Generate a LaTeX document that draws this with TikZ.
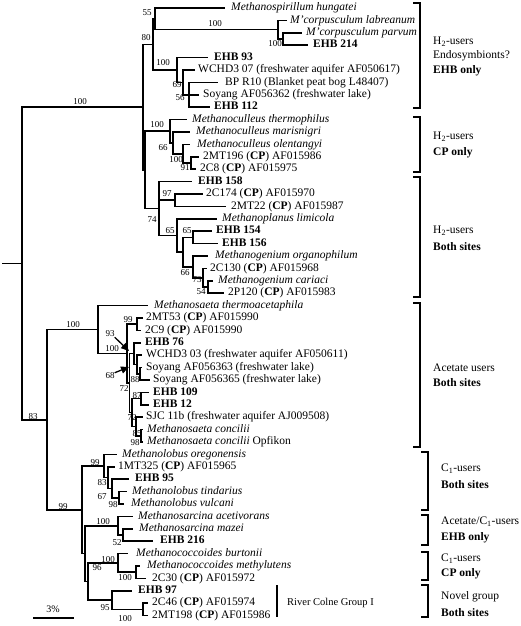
\documentclass[tikz,border=0pt]{standalone}
\usepackage{fontspec}
\setmainfont{Liberation Serif}
\usetikzlibrary{arrows.meta}
\begin{document}
\begin{tikzpicture}[x=1pt,y=-1pt,
  tr/.style={line width=1.6pt},
  brk/.style={line width=1.2pt},
  lf/.style={anchor=west,inner sep=0pt,font=\fontsize{11.5}{12}\selectfont,text height=8pt,text depth=2.5pt},
  bs/.style={inner sep=0pt,font=\fontsize{9}{9}\selectfont},
  gl/.style={anchor=west,inner sep=0pt,font=\fontsize{11.5}{12}\selectfont},
  arr/.style={line width=1.3pt,-{Triangle[length=8pt,width=7pt]}}]
\useasboundingbox (0,0) rectangle (520,626);
% leaf tips
\coordinate (l1) at (225,8);
\coordinate (l2) at (287,20.4);
\coordinate (l3) at (302,32.8);
\coordinate (l4) at (308,45.2);
\coordinate (l5) at (208,57.6);
\coordinate (l6) at (195,70);
\coordinate (l7) at (218,82.4);
\coordinate (l8) at (199,94.8);
\coordinate (l9) at (210,107.2);
\coordinate (l10) at (187,119.6);
\coordinate (l11) at (190,132);
\coordinate (l12) at (190,144.4);
\coordinate (l13) at (199,156.8);
\coordinate (l14) at (196,169.2);
\coordinate (l15) at (192,181.6);
\coordinate (l16) at (203,194);
\coordinate (l17) at (226,206.4);
\coordinate (l18) at (217,218.8);
\coordinate (l19) at (212,231.2);
\coordinate (l20) at (218,243.6);
\coordinate (l21) at (208,256);
\coordinate (l22) at (207,268.4);
\coordinate (l23) at (213,280.8);
\coordinate (l24) at (224,293.2);
\coordinate (l25) at (148,305.6);
\coordinate (l26) at (143,318);
\coordinate (l27) at (141,330.4);
\coordinate (l28) at (141,342.8);
\coordinate (l29) at (142,355.2);
\coordinate (l30) at (142,367.6);
\coordinate (l31) at (150,380);
\coordinate (l32) at (149,392.4);
\coordinate (l33) at (149,404.8);
\coordinate (l34) at (143,417.2);
\coordinate (l35) at (143,429.6);
\coordinate (l36) at (143,442);
\coordinate (l37) at (117,454.4);
\coordinate (l38) at (115,466.8);
\coordinate (l39) at (129,479.2);
\coordinate (l40) at (127,491.6);
\coordinate (l41) at (124,504);
\coordinate (l42) at (133,516.4);
\coordinate (l43) at (133,528.8);
\coordinate (l44) at (153,541.2);
\coordinate (l45) at (128,553.6);
\coordinate (l46) at (140,566);
\coordinate (l47) at (146,578.4);
\coordinate (l48) at (132,590.8);
\coordinate (l49) at (148,603.2);
\coordinate (l50) at (148,615.6);
% internal nodes
\coordinate (nM2) at (283,39);
\coordinate (nM1) at (278,29.7);
\coordinate (n55) at (155,18.85);
\coordinate (n56) at (189,94.8);
\coordinate (n69) at (183,82.4);
\coordinate (n100a) at (177,70);
\coordinate (n80) at (153,44.43);
\coordinate (n91) at (191,163);
\coordinate (n100c) at (183,153.7);
\coordinate (n66a) at (173,142.85);
\coordinate (n100b) at (170,131.23);
\coordinate (n97) at (175,200.2);
\coordinate (n65b) at (193,237.4);
\coordinate (n54) at (208,287);
\coordinate (n73) at (203,277.7);
\coordinate (n66b) at (193,266.85);
\coordinate (nB) at (183,252.13);
\coordinate (n65a) at (177,235.46);
\coordinate (n74) at (159,208.53);
\coordinate (nZ) at (145,169.88);
\coordinate (nX) at (143,107.16);
\coordinate (n99b) at (137,324.2);
\coordinate (n88) at (140,373.8);
\coordinate (nW) at (137,364.5);
\coordinate (nE) at (134,353.65);
\coordinate (n87) at (141,398.6);
\coordinate (n85) at (141,435.8);
\coordinate (n72b) at (136,426.5);
\coordinate (n72a) at (132,412.55);
\coordinate (n68) at (129.5,383.1);
\coordinate (n93) at (127,353.65);
\coordinate (n100d) at (98,329.63);
\coordinate (n98) at (119,497.8);
\coordinate (n67) at (112,488.5);
\coordinate (n83b) at (108,477.65);
\coordinate (n99c) at (104,466.03);
\coordinate (n52) at (123,535);
\coordinate (n100f) at (118,525.7);
\coordinate (n100h) at (136,572.2);
\coordinate (n100g) at (118,562.9);
\coordinate (n100i) at (143,609.4);
\coordinate (n95) at (112,600.1);
\coordinate (n96) at (88,581.5);
\coordinate (nL) at (85,553.6);
\coordinate (n99a) at (82,509.8);
\coordinate (n83) at (47,419.7);
\coordinate (root) at (22,263.43);
\coordinate (stub) at (2,263.43);
% edges
\draw[tr] (stub) -- (root);
\foreach \p/\c in {root/nX, root/n83, nX/n80, nX/nZ, n80/n55, n80/n100a, n55/l1, n55/nM1, nM1/l2, nM1/nM2, nM2/l3, nM2/l4, n100a/l5, n100a/n69, n69/l6, n69/n56, n56/l7, n56/l8, n56/l9, nZ/n100b, nZ/n74, n100b/l10, n100b/n66a, n66a/l11, n66a/n100c, n100c/l12, n100c/n91, n91/l13, n91/l14, n74/l15, n74/n97, n74/n65a, n97/l16, n97/l17, n65a/l18, n65a/nB, nB/n65b, nB/n66b, n65b/l19, n65b/l20, n66b/l21, n66b/n73, n73/l22, n73/n54, n54/l23, n54/l24, n83/n100d, n83/n99a, n100d/l25, n100d/n93, n93/n99b, n93/n68, n99b/l26, n99b/l27, n68/nE, n68/n72a, nE/l28, nE/nW, nW/l29, nW/n88, n88/l30, n88/l31, n72a/n87, n72a/n72b, n87/l32, n87/l33, n72b/l34, n72b/n85, n85/l35, n85/l36, n99a/n99c, n99a/nL, n99c/l37, n99c/n83b, n83b/l38, n83b/n67, n67/l39, n67/n98, n98/l40, n98/l41, nL/n100f, nL/n96, n100f/l42, n100f/n52, n52/l43, n52/l44, n96/n100g, n96/n95, n100g/l45, n100g/n100h, n100h/l46, n100h/l47, n95/l48, n95/n100i, n100i/l49, n100i/l50}
  \draw[tr] (\p) |- (\c);
% leaf labels
\node[lf] (t1) at (231,8) {\itshape Methanospirillum hungatei};
\node[lf] (t2) at (290,20.4) {\itshape M'corpusculum labreanum};
\node[lf] (t3) at (306,32.8) {\itshape M'corpusculum parvum};
\node[lf] (t4) at (313,45.2) {\bfseries EHB 214};
\node[lf] (t5) at (214,57.6) {\bfseries EHB 93};
\node[lf] (t6) at (198,70) {WCHD3 07 (freshwater aquifer AF050617)};
\node[lf] (t7) at (225,82.4) {BP R10 (Blanket peat bog L48407)};
\node[lf] (t8) at (203,94.8) {Soyang AF056362 (freshwater lake)};
\node[lf] (t9) at (214,107.2) {\bfseries EHB 112};
\node[lf] (t10) at (192,119.6) {\itshape Methanoculleus thermophilus};
\node[lf] (t11) at (196,132) {\itshape Methanoculleus marisnigri};
\node[lf] (t12) at (197,144.4) {\itshape Methanoculleus olentangyi};
\node[lf] (t13) at (203,156.8) {2MT196 (\textbf{CP}) AF015986};
\node[lf] (t14) at (200,169.2) {2C8 (\textbf{CP}) AF015975};
\node[lf] (t15) at (198,181.6) {\bfseries EHB 158};
\node[lf] (t16) at (206,194) {2C174 (\textbf{CP}) AF015970};
\node[lf] (t17) at (231,206.4) {2MT22 (\textbf{CP}) AF015987};
\node[lf] (t18) at (222,218.8) {\itshape Methanoplanus limicola};
\node[lf] (t19) at (216,231.2) {\bfseries EHB 154};
\node[lf] (t20) at (222,243.6) {\bfseries EHB 156};
\node[lf] (t21) at (215,256) {\itshape Methanogenium organophilum};
\node[lf] (t22) at (210,268.4) {2C130 (\textbf{CP}) AF015968};
\node[lf] (t23) at (218,280.8) {\itshape Methanogenium cariaci};
\node[lf] (t24) at (228,293.2) {2P120 (\textbf{CP}) AF015983};
\node[lf] (t25) at (154,305.6) {\itshape Methanosaeta thermoacetaphila};
\node[lf] (t26) at (146,318) {2MT53 (\textbf{CP}) AF015990};
\node[lf] (t27) at (145,330.4) {2C9 (\textbf{CP}) AF015990};
\node[lf] (t28) at (145,342.8) {\bfseries EHB 76};
\node[lf] (t29) at (146,355.2) {WCHD3 03 (freshwater aquifer AF050611)};
\node[lf] (t30) at (146,367.6) {Soyang AF056363 (freshwater lake)};
\node[lf] (t31) at (153,380) {Soyang AF056365 (freshwater lake)};
\node[lf] (t32) at (153,392.4) {\bfseries EHB 109};
\node[lf] (t33) at (153,404.8) {\bfseries EHB 12};
\node[lf] (t34) at (146,417.2) {SJC 11b (freshwater aquifer AJ009508)};
\node[lf] (t35) at (147,429.6) {\itshape Methanosaeta concilii};
\node[lf] (t36) at (147,442) {\textit{Methanosaeta concilii} Opfikon};
\node[lf] (t37) at (122,454.4) {\itshape Methanolobus oregonensis};
\node[lf] (t38) at (118,466.8) {1MT325 (\textbf{CP}) AF015965};
\node[lf] (t39) at (135,479.2) {\bfseries EHB 95};
\node[lf] (t40) at (132,491.6) {\itshape Methanolobus tindarius};
\node[lf] (t41) at (131,504) {\itshape Methanolobus vulcani};
\node[lf] (t42) at (138,516.4) {\itshape Methanosarcina acetivorans};
\node[lf] (t43) at (139,528.8) {\itshape Methanosarcina mazei};
\node[lf] (t44) at (160,541.2) {\bfseries EHB 216};
\node[lf] (t45) at (136,553.6) {\itshape Methanococcoides burtonii};
\node[lf] (t46) at (147,566) {\itshape Methanococcoides methylutens};
\node[lf] (t47) at (152,578.4) {2C30 (\textbf{CP}) AF015972};
\node[lf] (t48) at (138,590.8) {\bfseries EHB 97};
\node[lf] (t49) at (152,603.2) {2C46 (\textbf{CP}) AF015974};
\node[lf] (t50) at (152,615.6) {2MT198 (\textbf{CP}) AF015986};
% bootstrap values
\node[bs] (b1) at (147,13) {55};
\node[bs] (b2) at (215,24) {100};
\node[bs] (b3) at (275,44) {100};
\node[bs] (b4) at (146,38) {80};
\node[bs] (b5) at (163,63) {100};
\node[bs] (b6) at (177,85) {69};
\node[bs] (b7) at (180,98) {56};
\node[bs] (b8) at (80,102) {100};
\node[bs] (b9) at (157,125) {100};
\node[bs] (b10) at (163,148) {66};
\node[bs] (b11) at (176,160) {100};
\node[bs] (b12) at (185,168) {91};
\node[bs] (b13) at (152,220) {74};
\node[bs] (b14) at (167,194) {97};
\node[bs] (b15) at (170,231) {65};
\node[bs] (b16) at (187,231) {65};
\node[bs] (b17) at (185,273) {66};
\node[bs] (b18) at (197,280) {73};
\node[bs] (b19) at (201,292) {54};
\node[bs] (b20) at (73,325) {100};
\node[bs] (b21) at (128,320) {99};
\node[bs] (b22) at (110,334) {93};
\node[bs] (b23) at (112,349) {100};
\node[bs] (b24) at (110,376) {68};
\node[bs] (b25) at (124,389) {72};
\node[bs] (b26) at (135,380) {88};
\node[bs] (b27) at (137,396) {87};
\node[bs] (b28) at (132,418) {72};
\node[bs] (b29) at (137,434) {85};
\node[bs] (b30) at (135,443) {98};
\node[bs] (b31) at (33,417) {83};
\node[bs] (b32) at (63,507) {99};
\node[bs] (b33) at (95,463) {99};
\node[bs] (b34) at (102,483) {83};
\node[bs] (b35) at (102,497) {67};
\node[bs] (b36) at (113,505) {98};
\node[bs] (b37) at (103,522) {100};
\node[bs] (b38) at (117,543) {52};
\node[bs] (b39) at (108,560) {100};
\node[bs] (b40) at (125,578) {100};
\node[bs] (b41) at (97,568) {96};
\node[bs] (b42) at (105,608) {95};
\node[bs] (b43) at (125,619) {100};
% pointer arrows
\coordinate (a93) at (129,351);
\coordinate (a68) at (129,367);
\draw[arr] (b22.south east) -- (a93);
\draw[arr] (b24.north east) -- (a68);
% brackets
\coordinate (k1a) at (413,3);   \coordinate (k1b) at (413,108);
\coordinate (k2a) at (413,117); \coordinate (k2b) at (413,172);
\coordinate (k3a) at (413,177); \coordinate (k3b) at (413,297);
\coordinate (k4a) at (413,303); \coordinate (k4b) at (413,447);
\coordinate (k5a) at (421,452); \coordinate (k5b) at (421,510);
\coordinate (k6a) at (421,515); \coordinate (k6b) at (421,545);
\coordinate (k7a) at (421,552); \coordinate (k7b) at (421,580);
\coordinate (k8a) at (421,585); \coordinate (k8b) at (421,617);
\foreach \a/\b in {k1a/k1b,k2a/k2b,k3a/k3b,k4a/k4b,k5a/k5b,k6a/k6b,k7a/k7b,k8a/k8b}
  \draw[brk] (\a) -- ++(7,0) |- (\b);
% group labels
\node[gl] (g1a) at (433,42) {H\textsubscript{2}-users};
\node[gl] (g1b) at (433,56) {Endosymbionts?};
\node[gl] (g1c) at (433,71) {\bfseries EHB only};
\node[gl] (g2a) at (433,137) {H\textsubscript{2}-users};
\node[gl] (g2b) at (433,153) {\bfseries CP only};
\node[gl] (g3a) at (433,231) {H\textsubscript{2}-users};
\node[gl] (g3b) at (433,247) {\bfseries Both sites};
\node[gl] (g4a) at (433,368) {Acetate users};
\node[gl] (g4b) at (433,383) {\bfseries Both sites};
\node[gl] (g5a) at (441,469) {C\textsubscript{1}-users};
\node[gl] (g5b) at (441,485) {\bfseries Both sites};
\node[gl] (g6a) at (441,522) {Acetate/C\textsubscript{1}-users};
\node[gl] (g6b) at (441,538) {\bfseries EHB only};
\node[gl] (g7a) at (441,559) {C\textsubscript{1}-users};
\node[gl] (g7b) at (441,574) {\bfseries CP only};
\node[gl] (g8a) at (441,597) {Novel group};
\node[gl] (g8b) at (441,613) {\bfseries Both sites};
% River Colne group
\coordinate (rc1) at (277,585);
\coordinate (rc2) at (277,617);
\draw[brk] (rc1) -- (rc2);
\node[anchor=west,inner sep=0pt,font=\fontsize{10.5}{11}\selectfont] (rc) at (287,603) {River Colne Group I};
% scale bar
\coordinate (s1) at (33,618);
\coordinate (s2) at (74,618);
\draw[brk] (s1) -- (s2);
\node[inner sep=0pt,font=\fontsize{10}{10}\selectfont] (sc) at (53,609) {3\%};
\end{tikzpicture}
\end{document}
